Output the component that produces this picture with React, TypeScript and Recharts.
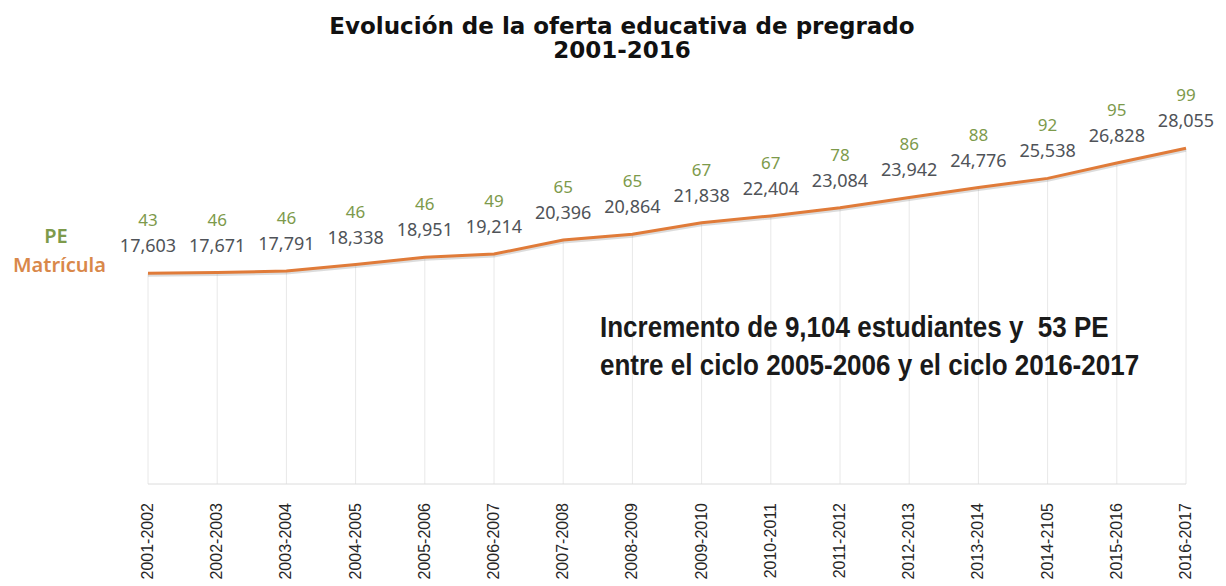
import { LineChart, Line, XAxis, YAxis, LabelList, ReferenceLine } from 'recharts'

const ciclos = [
  '2001-2002', '2002-2003', '2003-2004', '2004-2005', '2005-2006', '2006-2007',
  '2007-2008', '2008-2009', '2009-2010', '2010-2011', '2011-2012', '2012-2013',
  '2013-2014', '2014-2105', '2015-2016', '2016-2017',
]
const matricula = [
  17603, 17671, 17791, 18338, 18951, 19214, 20396, 20864,
  21838, 22404, 23084, 23942, 24776, 25538, 26828, 28055,
]
const programas = [43, 46, 46, 46, 46, 49, 65, 65, 67, 67, 78, 86, 88, 92, 95, 99]

const data = ciclos.map((c, i) => ({ ciclo: c, mat: matricula[i], pe: programas[i] }))

const numFont = '"Noto Sans", "Open Sans", sans-serif'
const green = '#7d9a4b'
const orange = '#e07b39'

function PointLabel(props: any) {
  const { x, y, index } = props
  return (
    <g>
      <text x={x} y={y - 47} textAnchor="middle" fontFamily={numFont} fontSize={17} fill={green}>
        {programas[index]}
      </text>
      <text x={x} y={y - 21} textAnchor="middle" fontFamily={numFont} fontSize={18} fill="#4f5358">
        {matricula[index].toLocaleString('en-US')}
      </text>
    </g>
  )
}

function CicloTick(props: any) {
  const { x, y, payload } = props
  return (
    <text
      x={x}
      y={y}
      transform={`rotate(-90, ${x}, ${y})`}
      dx={-11}
      dy={5}
      textAnchor="end"
      fontFamily='"Liberation Sans", Arial, sans-serif'
      fontSize={16}
      fill="#262626"
    >
      {payload.value}
    </text>
  )
}

export default function App() {
  return (
    <div style={{ position: 'relative', width: 1210, height: 578, background: '#fff' }}>
      <div style={{ position: 'absolute', left: 0, top: 0 }}>
        <LineChart width={1210} height={578} data={data} margin={{ top: 117, right: 32, bottom: 2, left: 140 }}>
          <XAxis
            dataKey="ciclo"
            interval={0}
            height={100}
            stroke="#dcdcdc"
            tickLine={false}
            tick={<CicloTick />}
          />
          <YAxis hide domain={[0, 30000]} />
          {data.map((d) => (
            <ReferenceLine
              key={d.ciclo}
              segment={[{ x: d.ciclo, y: 0 }, { x: d.ciclo, y: d.mat }]}
              stroke="#e8e8e8"
              strokeWidth={1}
            />
          ))}
          <Line
            dataKey="mat"
            stroke="#9a9a9a"
            strokeOpacity={0.35}
            strokeWidth={3}
            dot={false}
            type="linear"
            isAnimationActive={false}
            transform="translate(0, 2)"
          />
          <Line
            dataKey="mat"
            stroke={orange}
            strokeWidth={3}
            dot={false}
            type="linear"
            isAnimationActive={false}
          >
            <LabelList dataKey="mat" content={<PointLabel />} />
          </Line>
        </LineChart>
      </div>
      <svg
        width={1210}
        height={578}
        style={{ position: 'absolute', left: 0, top: 0, pointerEvents: 'none' }}
      >
        <g fontFamily='"DejaVu Sans", sans-serif' fontWeight="bold" fontSize={23} fill="#111" textAnchor="middle">
          <text x={614} y={26}>Evolución de la oferta educativa de pregrado</text>
          <text x={614} y={50}>2001-2016</text>
        </g>
        <text x={48} y={235} textAnchor="middle" fontFamily={numFont} fontWeight={600} fontSize={20} fill={green}>
          PE
        </text>
        <text x={5} y={264} fontFamily={numFont} fontWeight={600} fontSize={20} fill="#d9884a">
          Matrícula
        </text>
        <g
          transform="translate(592, 0) scale(0.867, 1)"
          fontFamily='"Liberation Sans", Arial, sans-serif'
          fontWeight="bold"
          fontSize={30}
          fill="#1a1a1a"
        >
          <text x={0} y={329} style={{ whiteSpace: 'pre' }}>Incremento de 9,104 estudiantes y  53 PE</text>
          <text x={0} y={367}>entre el ciclo 2005-2006 y el ciclo 2016-2017</text>
        </g>
      </svg>
    </div>
  )
}
